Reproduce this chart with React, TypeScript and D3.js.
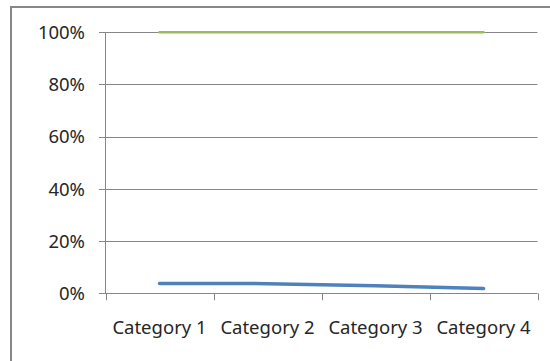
import React from "react";
import * as d3 from "d3";

const categories = ["Category 1", "Category 2", "Category 3", "Category 4"];
const seriesBlue = [0.038, 0.037, 0.029, 0.018];
const seriesGreen = [1, 1, 1, 1];
const yTicks = [0, 0.2, 0.4, 0.6, 0.8, 1];

const W = 550;
const H = 361;
const left = 105.5;
const right = 537.5;
const top = 32.3;
const bottom = 293.3;

export default function App() {
  const x = d3.scaleBand<string>().domain(categories).range([left, right]);
  const y = d3.scaleLinear().domain([0, 1]).range([bottom, top]);
  const line = d3
    .line<number>()
    .x((_, i) => (x(categories[i]) as number) + x.bandwidth() / 2)
    .y((d) => y(d));
  const grid = "#868686";
  const font = "'Noto Sans', 'Open Sans', sans-serif";
  const boundaries = [...categories.map((c) => x(c) as number), right];
  return (
    <svg
      width={W}
      height={H}
      style={{ position: "absolute", left: 0, top: 0, background: "#fff" }}
    >
      <rect x={11} y={7} width={600} height={400} fill="#fff" stroke="#878787" strokeWidth={2} />
      {yTicks.map((t) => (
        <g key={t}>
          <line x1={99} x2={right} y1={Math.round(y(t)) + 0.5} y2={Math.round(y(t)) + 0.5} stroke={grid} strokeWidth={1} />
          <text
            x={85}
            y={y(t)}
            dy="0.36em"
            textAnchor="end"
            fontFamily={font}
            fontSize={18.5}
            fill="#262626"
          >
            {d3.format(".0%")(t)}
          </text>
        </g>
      ))}
      <line x1={left} x2={left} y1={top} y2={bottom + 0.5} stroke={grid} strokeWidth={1} />
      {boundaries.map((b, i) => (
        <line key={i} x1={Math.round(b) + 0.5} x2={Math.round(b) + 0.5} y1={bottom} y2={bottom + 7} stroke={grid} strokeWidth={1} />
      ))}
      {categories.map((c) => (
        <text
          key={c}
          x={(x(c) as number) + x.bandwidth() / 2}
          y={334}
          textAnchor="middle"
          fontFamily={font}
          fontSize={18.5}
          fill="#262626"
        >
          {c}
        </text>
      ))}
      <path d={line(seriesGreen) || ""} fill="none" stroke="#9BBB59" strokeWidth={2.5} strokeLinecap="round" />
      <path d={line(seriesBlue) || ""} fill="none" stroke="#4F81BD" strokeWidth={3.5} strokeLinecap="round" strokeLinejoin="round" />
    </svg>
  );
}
